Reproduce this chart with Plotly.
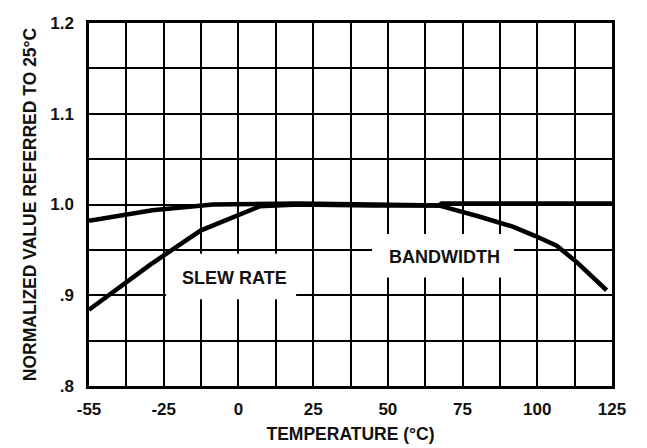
import plotly.graph_objects as go

# ---- data (x in axis units: each grid cell = 12.5, left edge labelled "-55") ----
bw_x = [-50, -28.8, -8.5, 20, 45, 67, 80.8, 87.5, 92, 99.2, 106.5, 113.2, 118.7, 123.2]
bw_y = [0.982, 0.9936, 1.0, 1.001, 1.0, 0.999, 0.9865, 0.980, 0.9754, 0.9655, 0.9545, 0.9365, 0.920, 0.9055]

sr_x = [-50, -29.6, -17.3, -12.5, 7.1, 20, 45, 67, 68, 125]
sr_y = [0.884, 0.9335, 0.961, 0.9715, 0.998, 1.0, 0.999, 0.999, 1.001, 1.001]

x_tick_pos = [-50, -25, 0, 25, 50, 75, 100, 125]
x_tick_text = ["-55", "-25", "0", "25", "50", "75", "100", "125"]
y_tick_pos = [0.8, 0.9, 1.0, 1.1, 1.2]
y_tick_text = [".8", ".9", "1.0", "1.1", "1.2"]

FONT = "Liberation Sans, Arial, sans-serif"

fig = go.Figure()
fig.add_trace(go.Scatter(x=bw_x, y=bw_y, mode="lines", name="BANDWIDTH",
                         line=dict(color="black", width=4.5)))
fig.add_trace(go.Scatter(x=sr_x, y=sr_y, mode="lines", name="SLEW RATE",
                         line=dict(color="black", width=4.5)))

# white label boxes that interrupt the grid
fig.add_shape(type="rect", xref="x", yref="y", x0=-24.2, x1=19.3, y0=0.8955, y1=0.9457,
              fillcolor="white", line=dict(width=0), layer="between")
fig.add_shape(type="rect", xref="x", yref="y", x0=44.7, x1=92.2, y0=0.9196, y1=0.9674,
              fillcolor="white", line=dict(width=0), layer="between")

fig.add_annotation(x=-1.15, y=0.9185, text="SLEW RATE", showarrow=False,
                   font=dict(family=FONT, size=18, color="#111", weight="bold"))
fig.add_annotation(x=69.1, y=0.9427, text="BANDWIDTH", showarrow=False,
                   font=dict(family=FONT, size=18, color="#111", weight="bold"))

fig.update_layout(
    width=647, height=448,
    margin=dict(l=89, r=35, t=23, b=62, autoexpand=False),
    paper_bgcolor="white", plot_bgcolor="white",
    showlegend=False,
    font=dict(family=FONT, color="#111"),
)
fig.update_xaxes(
    range=[-50, 125], tickmode="array", tickvals=x_tick_pos, ticktext=x_tick_text,
    tickfont=dict(family=FONT, size=17, weight="bold"), ticks="", ticklabelstandoff=6,
    showgrid=True, gridcolor="black", gridwidth=2, automargin=False,
    minor=dict(tick0=-50, dtick=12.5, showgrid=True, gridcolor="black", gridwidth=2),
    showline=True, linecolor="black", linewidth=2.5, mirror=True, zeroline=False,
    title=dict(text="TEMPERATURE (°C)", font=dict(family=FONT, size=17.5, weight="bold"), standoff=10),
)
fig.update_yaxes(
    range=[0.8, 1.2], tickmode="array", tickvals=y_tick_pos, ticktext=y_tick_text,
    tickfont=dict(family=FONT, size=17, weight="bold"), ticks="", ticklabelstandoff=9,
    showgrid=True, gridcolor="black", gridwidth=2, automargin=False,
    minor=dict(tick0=0.8, dtick=0.05, showgrid=True, gridcolor="black", gridwidth=2),
    showline=True, linecolor="black", linewidth=2.5, mirror=True, zeroline=False,
    title=dict(text="NORMALIZED VALUE REFERRED TO 25°C", font=dict(family=FONT, size=17.5, weight="bold"), standoff=10),
)

fig.write_html("out.html", config={"displayModeBar": False},
               post_script="document.body.style.margin='0';")
